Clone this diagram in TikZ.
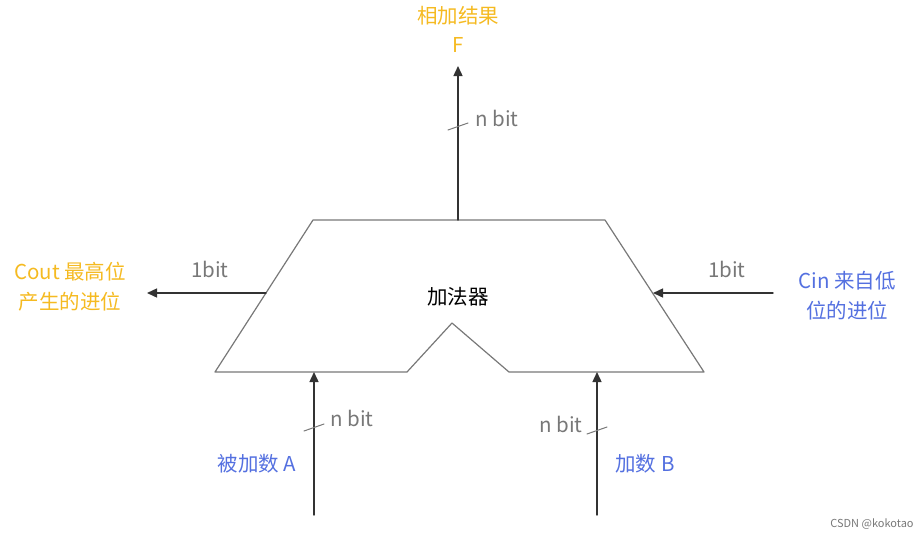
\documentclass[tikz,border=0pt]{standalone}
\usepackage{fontspec}
\setmainfont{Noto Sans CJK SC}
\usetikzlibrary{arrows.meta}
\definecolor{ffbbqq}{rgb}{0.96,0.73,0.13}
\definecolor{qqbbee}{rgb}{0.33,0.44,0.88}
\definecolor{uququq}{rgb}{0.2,0.2,0.2}
\definecolor{ttttqq}{rgb}{0.47,0.47,0.47}

\begin{document}
\begin{tikzpicture}[line cap=round,line join=round,>={Triangle[width=9pt,length=10pt]},x=1pt,y=-1pt,every node/.style={inner sep=0pt,font=\fontsize{20.5}{30}\selectfont}]
      \useasboundingbox (0,0) rectangle (921,539);
      % adder outline
      \coordinate (tl) at (313,220);
      \coordinate (tr) at (605,220);
      \coordinate (br) at (704,372);
      \coordinate (nr) at (509,372);
      \coordinate (np) at (452,323);
      \coordinate (nl) at (407,372);
      \coordinate (bl) at (215,372);
      \draw [color=ttttqq,line width=1.2pt] (tl) -- (tr) -- (br) -- (nr) -- (np) -- (nl) -- (bl) -- cycle;
      \node (add) at (458,297) {加法器};
      % ports
      \coordinate (outF) at (458,220);
      \coordinate (endF) at (458,66);
      \coordinate (outC) at (266,293);
      \coordinate (endC) at (147,293);
      \coordinate (inC) at (653,293);
      \coordinate (srcC) at (773,293);
      \coordinate (inA) at (314,372);
      \coordinate (srcA) at (314,515);
      \coordinate (inB) at (597,372);
      \coordinate (srcB) at (597,515);
      \draw [->,color=uququq,line width=1.4pt] (outF) -- (endF);
      \draw [->,color=uququq,line width=1.4pt] (outC) -- (endC);
      \draw [->,color=uququq,line width=1.4pt] (srcC) -- (inC);
      \draw [->,color=uququq,line width=1.4pt] (srcA) -- (inA);
      \draw [->,color=uququq,line width=1.4pt] (srcB) -- (inB);
      % bus width ticks
      \draw [color=ttttqq,line width=1pt] (448,130) -- (468,123);
      \draw [color=ttttqq,line width=1pt] (304,431) -- (324,424);
      \draw [color=ttttqq,line width=1pt] (587,434) -- (607,427);
      \draw[color=ttttqq] (497,118) node (bitF) {n bit};
      \draw[color=ttttqq] (352,418) node (bitA) {n bit};
      \draw[color=ttttqq] (561,424) node (bitB) {n bit};
      \draw[color=ttttqq] (210,269) node (bitC) {1bit};
      \draw[color=ttttqq] (727,269) node (bitI) {1bit};
      % labels
      \draw[color=ffbbqq] (458,16) node (sumF) {相加结果};
      \draw[color=ffbbqq] (458,45) node (nameF) {F};
      \draw[color=ffbbqq] (70,287) node[align=center] (cout) {Cout 最高位\\产生的进位};
      \draw[color=qqbbee] (847,296) node[align=center] (cin) {Cin 来自低\\位的进位};
      \draw[color=qqbbee] (257,464) node (numA) {被加数 A};
      \draw[color=qqbbee] (645,464) node (numB) {加数 B};
      \draw[color=ttttqq] (872,524) node[font=\fontsize{11}{13}\selectfont] (csdn) {CSDN @kokotao};
\end{tikzpicture}
\end{document}
